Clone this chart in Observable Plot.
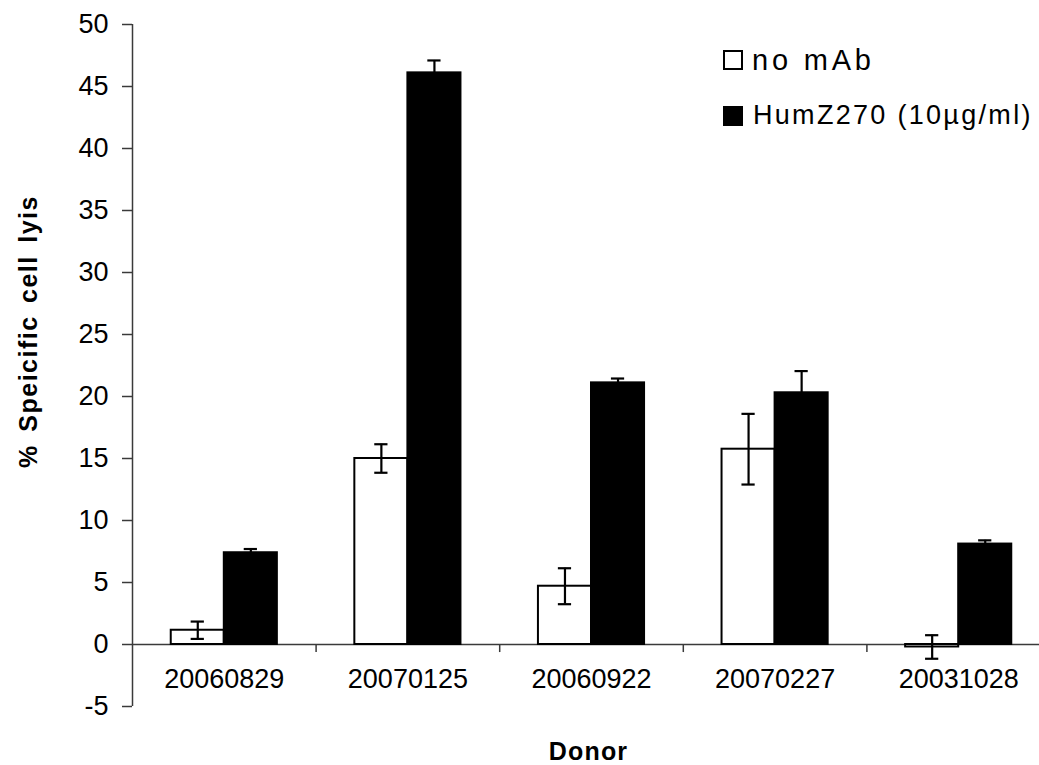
<!DOCTYPE html>
<html>
<head>
<meta charset="utf-8">
<script src="https://cdn.jsdelivr.net/npm/d3@7"></script>
<script src="https://cdn.jsdelivr.net/npm/@observablehq/plot@0.6"></script>
<style>
  body { margin: 0; background: #fff; font-family: "Liberation Sans", Arial, sans-serif; }
  #wrap { position: relative; width: 1039px; height: 765px; overflow: hidden; }
  text[aria-label="ylabel"] { letter-spacing: 1.5px; word-spacing: 4px; }
  text[aria-label="xlabel"] { letter-spacing: 1.2px; }
  .lg { position: absolute; color: #000; line-height: 1; white-space: nowrap; }
  .sw { position: absolute; box-sizing: border-box; width: 20px; height: 20px; border: 2px solid #000; }
</style>
</head>
<body>
<div id="wrap"></div>
<script>
const donors = ["20060829", "20070125", "20060922", "20070227", "20031028"];
const series = ["no mAb", "HumZ270 (10µg/ml)"];
const noMAb = [1.15, 15.0, 4.7, 15.75, -0.2];
const noMAbErr = [0.7, 1.15, 1.45, 2.85, 0.95];
const humZ = [7.4, 46.1, 21.1, 20.3, 8.1];
const humZErr = [0.3, 1.0, 0.35, 1.75, 0.3];
const yTicks = [-5, 0, 5, 10, 15, 20, 25, 30, 35, 40, 45, 50];
const yLabel = "% Speicific cell lyis";
const xLabel = "Donor";

const fills = ["#ffffff", "#000000"];
const barFrac = 0.289;   // bar width as fraction of category band
const capFrac = 0.036;   // half-width of error-bar cap

const rows = donors.flatMap((d, i) => [
  {donor: d, i, s: 0, series: series[0], value: noMAb[i], err: noMAbErr[i]},
  {donor: d, i, s: 1, series: series[1], value: humZ[i], err: humZErr[i]}
]);
const x1 = r => r.i + 0.5 - (r.s === 0 ? barFrac : 0);
const x2 = r => r.i + 0.5 + (r.s === 1 ? barFrac : 0);
const cx = r => r.i + 0.5 + (r.s === 0 ? -barFrac / 2 : barFrac / 2);

const axisColor = "#3a3a3a";

const chart = Plot.plot({
  width: 1039,
  height: 765,
  marginLeft: 132,
  marginRight: -11,
  marginTop: 24,
  marginBottom: 59,
  style: {fontFamily: "'Liberation Sans', Arial, sans-serif", background: "#fff", color: "#000"},
  x: {domain: [0, donors.length], axis: null},
  y: {domain: [-5, 50], axis: null},
  marks: [
    Plot.axisY({ticks: yTicks, tickFormat: d => String(d), tickSize: 10, tickPadding: 14, fontSize: 27, stroke: axisColor, strokeWidth: 1.5, label: null}),
    Plot.ruleX([0], {y1: -5, y2: 50, stroke: axisColor, strokeWidth: 1.5}),
    Plot.ruleY([0], {stroke: axisColor, strokeWidth: 1.5}),
    Plot.ruleX(d3.range(1, donors.length + 1), {y1: 0, y2: -0.65, stroke: axisColor, strokeWidth: 1.5}),
    Plot.rectY(rows, {x1, x2, y1: 0, y2: "value", fill: r => fills[r.s], stroke: "#000", strokeWidth: 2}),
    Plot.ruleX(rows, {x: cx, y1: r => r.value - r.err, y2: r => r.value + r.err, stroke: "#000", strokeWidth: 2.2}),
    Plot.ruleY(rows, {y: r => r.value + r.err, x1: r => cx(r) - capFrac, x2: r => cx(r) + capFrac, stroke: "#000", strokeWidth: 2.2}),
    Plot.ruleY(rows, {y: r => r.value - r.err, x1: r => cx(r) - capFrac, x2: r => cx(r) + capFrac, stroke: "#000", strokeWidth: 2.2}),
    Plot.text(donors, {x: (d, i) => i + 0.5, y: () => 0, text: d => d, dy: 24, lineAnchor: "top", fontSize: 27, fill: "#000"}),
    Plot.text([yLabel], {frameAnchor: "left", text: d => d, textAnchor: "middle", rotate: -90, dx: -96, dy: -34, lineAnchor: "bottom", fontSize: 25, fontWeight: "bold", fill: "#000", ariaLabel: () => "ylabel"}),
    Plot.text([xLabel], {frameAnchor: "bottom", text: d => d, dx: -3, dy: 53.5, lineAnchor: "bottom", fontSize: 25, fontWeight: "bold", fill: "#000", ariaLabel: () => "xlabel"})
  ]
});

const wrap = document.getElementById("wrap");
wrap.appendChild(chart);

// legend (inside the plot area, top right)
const legendItems = [
  {label: series[0], fill: fills[0], sx: 723, sy: 50, tx: 752, ty: 46, size: 29, ls: 3.8},
  {label: series[1], fill: fills[1], sx: 723, sy: 105.5, tx: 753, ty: 102.3, size: 27, ls: 2.3}
];
for (const it of legendItems) {
  const sw = document.createElement("div");
  sw.className = "sw";
  sw.style.left = it.sx + "px";
  sw.style.top = it.sy + "px";
  sw.style.background = it.fill;
  wrap.appendChild(sw);
  const t = document.createElement("div");
  t.className = "lg";
  t.style.left = it.tx + "px";
  t.style.top = it.ty + "px";
  t.style.fontSize = it.size + "px";
  t.style.letterSpacing = it.ls + "px";
  t.textContent = it.label;
  wrap.appendChild(t);
}
</script>
</body>
</html>
